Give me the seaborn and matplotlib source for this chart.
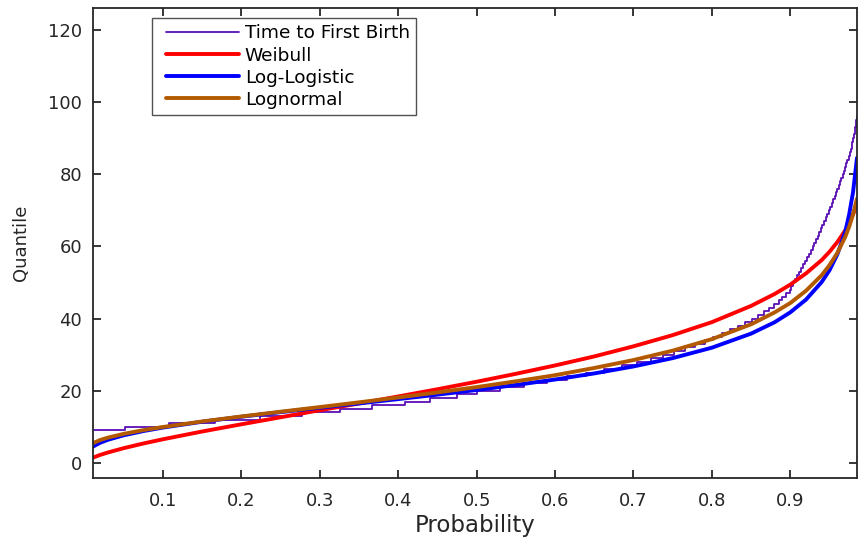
import numpy as np
import pandas as pd
import matplotlib
matplotlib.use("Agg")
import matplotlib.pyplot as plt
from matplotlib.lines import Line2D
from matplotlib.legend_handler import HandlerLine2D
import seaborn as sns

# ---------------- data ----------------
# Empirical quantile function: integer quantile levels and the probability at which each level starts
emp_q = list(range(9, 97))
emp_p = [0.010, 0.051, 0.108, 0.166, 0.224, 0.277, 0.326, 0.367, 0.408, 0.441,
         0.475, 0.501, 0.530, 0.560, 0.590, 0.615, 0.640, 0.663, 0.685, 0.705,
         0.722, 0.738, 0.752, 0.766, 0.779, 0.791, 0.802, 0.813, 0.823, 0.833,
         0.842, 0.851, 0.859, 0.866, 0.873, 0.879, 0.885, 0.890, 0.895, 0.899,
         0.9015, 0.904, 0.9065, 0.909, 0.9115, 0.914, 0.9165, 0.919, 0.9215, 0.924,
         0.9262, 0.9284, 0.9306, 0.9328, 0.935, 0.937, 0.939, 0.941, 0.943, 0.945,
         0.947, 0.949, 0.951, 0.9528, 0.9546, 0.9564, 0.9582, 0.960, 0.9617, 0.9634,
         0.9651, 0.9668, 0.9684, 0.9700, 0.9715, 0.9729, 0.9743, 0.9756, 0.9769, 0.9781,
         0.9792, 0.9802, 0.9811, 0.9820, 0.9828, 0.9835, 0.9842, 0.9848]
emp_end = 0.99

# Fitted quantile curves sampled at these probabilities
fit_p = [0.01, 0.02, 0.03, 0.05, 0.075, 0.10, 0.15, 0.20, 0.25, 0.30, 0.35, 0.40,
         0.45, 0.50, 0.55, 0.60, 0.65, 0.70, 0.75, 0.80, 0.85, 0.88, 0.90, 0.92,
         0.94, 0.95, 0.96, 0.97, 0.975, 0.98, 0.985]
weibull_q = [1.40, 2.22, 2.90, 4.09, 5.38, 6.55, 8.70, 10.7, 12.64, 14.6, 16.46, 18.41,
             20.41, 22.49, 24.68, 27.0, 29.5, 32.3, 35.4, 39.0, 43.5, 46.8, 49.4, 52.5,
             56.2, 58.5, 61.2, 64.4, 66.4, 68.8, 71.8]
loglogistic_q = [4.44, 5.60, 6.42, 7.65, 8.82, 9.79, 11.40, 12.79, 14.06, 15.28, 16.47, 17.67,
                 18.91, 20.2, 21.59, 23.10, 24.79, 26.72, 29.03, 31.92, 35.82, 38.97, 41.72, 45.24,
                 50.11, 53.38, 57.8, 64.0, 68.8, 75.0, 84.5]
lognormal_q = [5.41, 6.35, 7.02, 8.05, 9.08, 9.95, 11.48, 12.86, 14.18, 15.47, 16.78, 18.12,
               19.52, 21.0, 22.6, 24.3, 26.3, 28.5, 31.1, 34.3, 38.4, 41.7, 44.3, 47.7,
               52.0, 54.8, 58.2, 62.6, 65.4, 68.9, 73.2]

series_names = ["Time to First Birth", "Weibull", "Log-Logistic", "Lognormal"]
colors = ["#5A0FB4", "#FF0000", "#0000FF", "#B35A00"]
xticks = [0.1, 0.2, 0.3, 0.4, 0.5, 0.6, 0.7, 0.8, 0.9]
yticks = [0, 20, 40, 60, 80, 100, 120]

# ---------------- plot ----------------
sns.set_theme(style="white")
plt.rcParams["font.family"] = ["DejaVu Sans"]

fig = plt.figure(figsize=(8.58, 5.42), dpi=100)
ax = fig.add_axes([0.1084, 0.118, 0.8904, 0.867])

emp_df = pd.DataFrame({"p": emp_p + [emp_end], "q": emp_q + [emp_q[-1]]})
sns.lineplot(data=emp_df, x="p", y="q", ax=ax, color=colors[0], linewidth=1.3,
             drawstyle="steps-post", estimator=None, sort=False, label=series_names[0])

for name, vals, col in zip(series_names[1:], [weibull_q, loglogistic_q, lognormal_q], colors[1:]):
    df = pd.DataFrame({"p": fit_p, "q": vals})
    sns.lineplot(data=df, x="p", y="q", ax=ax, color=col, linewidth=2.8,
                 estimator=None, sort=False, label=name)

ax.set_xlim(0.0107, 0.985)
ax.set_ylim(-4.2, 126)
ax.set_xticks(xticks)
ax.set_xticklabels([f"{t:.1f}" for t in xticks])
ax.set_yticks(yticks)
ax.set_xlabel("Probability", fontsize=16.5, color="#262626", labelpad=3)
ax.set_ylabel("Quantile", fontsize=13, color="#262626", labelpad=13)

ax.tick_params(axis="both", which="both", direction="in", length=6, width=1.3,
               color="#262626", labelsize=13, labelcolor="#262626",
               top=True, right=True, bottom=True, left=True)
ax.tick_params(axis="x", pad=10)
ax.tick_params(axis="y", pad=8)
for s in ax.spines.values():
    s.set_visible(True)
    s.set_color("#262626")
    s.set_linewidth(1.3)

leg = ax.legend(loc="upper left", bbox_to_anchor=(0.077, 0.979), borderaxespad=0,
                fontsize=13.3, frameon=True, fancybox=False, handlelength=4.35,
                handletextpad=0.33, labelspacing=0.22, borderpad=0.35,
                handler_map={Line2D: HandlerLine2D(xpad=0.4)})
leg.get_frame().set_edgecolor("#262626")
leg.get_frame().set_linewidth(1.0)
for t in leg.get_texts():
    t.set_color("black")

fig.savefig("out.png", dpi=100)
